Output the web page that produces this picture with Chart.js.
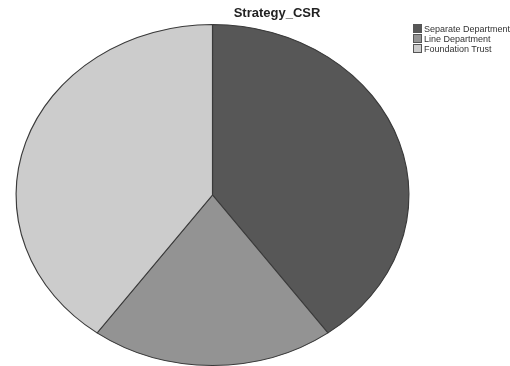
<!DOCTYPE html>
<html>
<head>
<meta charset="utf-8">
<script src="https://cdn.jsdelivr.net/npm/chart.js@4"></script>
<style>
  html, body { margin: 0; padding: 0; background: #fff; }
  #wrap { position: relative; width: 510px; height: 366px; }
  #title {
    position: absolute; left: 177px; width: 200px; top: 5px;
    text-align: center; font: bold 13px "Liberation Sans", Arial, sans-serif; color: #222;
  }
  #legend {
    position: absolute; left: 413px; top: 24px;
    font: 9px "Liberation Sans", Arial, sans-serif; color: #333; white-space: nowrap;
  }
  #legend div { height: 10px; line-height: 10px; }
  #legend span {
    display: inline-block; width: 7px; height: 7px; border: 1px solid #555;
    vertical-align: top; margin: 0 2px 0 0; position: relative; top: 0px;
  }
</style>
</head>
<body>
<div id="wrap">
  <canvas id="pieChart" width="510" height="366"></canvas>
  <div id="title">Strategy_CSR</div>
  <div id="legend"></div>
</div>
<script>
const labels = ['Separate Department', 'Line Department', 'Foundation Trust'];
const counts = [10, 5, 10];
const colors = ['#575757', '#939393', '#cccccc'];

// the pie is drawn as a circle and stretched sideways into an ellipse
const stretchX = 197 / 171;

const ellipse = {
    id: 'ellipse',
    beforeDatasetsDraw(chart) {
        const arc = chart.getDatasetMeta(0).data[0];
        const ctx = chart.ctx;
        ctx.save();
        ctx.translate(arc.x, arc.y);
        ctx.scale(stretchX, 1);
        ctx.translate(-arc.x, -arc.y);
    },
    afterDatasetsDraw(chart) {
        chart.ctx.restore();
    }
};

new Chart(document.getElementById('pieChart'), {
    type: 'pie',
    data: {
        labels: labels,
        datasets: [{
            data: counts,
            backgroundColor: colors,
            borderColor: '#3a3a3a',
            borderWidth: 1
        }]
    },
    options: {
        responsive: false,
        animation: false,
        layout: { padding: { top: 24, bottom: 0, left: 41, right: 126 } },
        plugins: {
            legend: { display: false },
            title: { display: false },
            tooltip: { enabled: false }
        }
    },
    plugins: [ellipse]
});

const legend = document.getElementById('legend');
labels.forEach((name, i) => {
    const row = document.createElement('div');
    row.innerHTML = `<span style="background:${colors[i]}"></span>${name}`;
    legend.appendChild(row);
});
</script>
</body>
</html>
